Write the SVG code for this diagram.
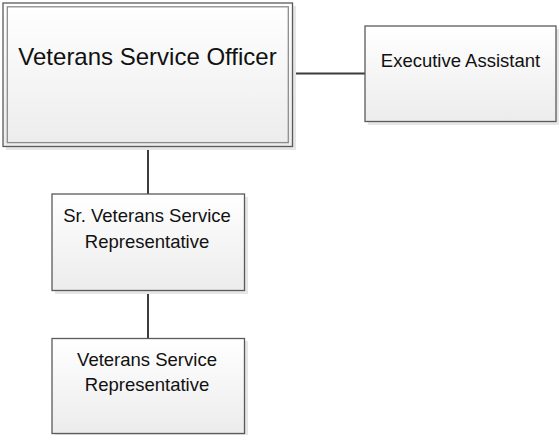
<svg xmlns="http://www.w3.org/2000/svg" width="560" height="435" viewBox="0 0 560 435">
  <style>
    .box { fill: url(#boxFill); stroke: #5a5a5a; stroke-width: 1.3; }
    .inner { fill: none; stroke: #8c8c8c; stroke-width: 1.3; }
    .shadow { fill: #e6e6e6; }
    .label { font-family: "Liberation Sans", Arial, sans-serif; fill: #111111; text-anchor: middle; }
    .big { font-size: 24px; }
    .small { font-size: 18.5px; }
    .conn { stroke: #3c3c3c; stroke-width: 2; fill: none; }
  </style>
  <defs>
    <linearGradient id="boxFill" x1="0" y1="0" x2="0" y2="1">
      <stop offset="0" stop-color="#ffffff"/>
      <stop offset="1" stop-color="#ececec"/>
    </linearGradient>
  </defs>
  <rect width="560" height="435" fill="#ffffff"/>

  <g id="connectors">
    <line class="conn" x1="292" y1="73.5" x2="365" y2="73.5"/>
    <line class="conn" x1="148" y1="147" x2="148" y2="194"/>
    <line class="conn" x1="148" y1="291" x2="148" y2="338"/>
  </g>

  <g id="veterans-service-officer">
    <rect class="shadow" x="6" y="6" width="290" height="144"/>
    <rect class="box" x="3" y="3" width="289.5" height="143.5"/>
    <rect class="inner" x="7.3" y="6.8" width="281" height="135.8"/>
    <text class="label big" x="147.5" y="65">Veterans Service Officer</text>
  </g>

  <g id="executive-assistant">
    <rect class="shadow" x="368" y="29" width="191" height="96"/>
    <rect class="box" x="365" y="26" width="191" height="95.5"/>
    <text class="label small" x="460.5" y="66.5">Executive Assistant</text>
  </g>

  <g id="sr-veterans-service-representative">
    <rect class="shadow" x="55" y="197" width="193" height="97"/>
    <rect class="box" x="52" y="194" width="192.5" height="96.5"/>
    <text class="label small" x="147" y="221.5">Sr. Veterans Service</text>
    <text class="label small" x="147" y="248">Representative</text>
  </g>

  <g id="veterans-service-representative">
    <rect class="shadow" x="55" y="341" width="193" height="97"/>
    <rect class="box" x="52" y="338.5" width="192.5" height="95"/>
    <text class="label small" x="147" y="366">Veterans Service</text>
    <text class="label small" x="147" y="391">Representative</text>
  </g>
</svg>
